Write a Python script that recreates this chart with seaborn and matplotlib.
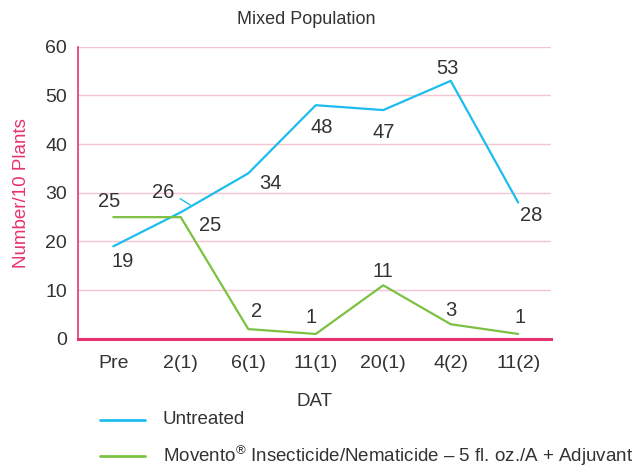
import matplotlib
matplotlib.use("Agg")
import matplotlib.pyplot as plt
import seaborn as sns
import pandas as pd
from matplotlib import font_manager

categories = ["Pre", "2(1)", "6(1)", "11(1)", "20(1)", "4(2)", "11(2)"]
untreated = [19, 26, 34, 48, 47, 53, 28]
movento = [25, 25, 2, 1, 11, 3, 1]
series_names = ["Untreated", "Movento$^{\u00ae}$ Insecticide/Nematicide \u2013 5 fl. oz./A + Adjuvant"]

sns.set_theme(style="white")
avail = {f.name for f in font_manager.fontManager.ttflist}
fam = "Liberation Sans Narrow" if "Liberation Sans Narrow" in avail else "Liberation Sans"
plt.rcParams["font.family"] = [fam, "DejaVu Sans"]
plt.rcParams["mathtext.fontset"] = "custom"
plt.rcParams["mathtext.rm"] = fam
plt.rcParams["mathtext.it"] = fam
plt.rcParams["mathtext.default"] = "rm"

TXT = "#333333"
PINK = "#e6336e"
CYAN = "#1cbdee"
GREEN = "#7cc142"

df = pd.DataFrame({
    "DAT": categories * 2,
    "value": untreated + movento,
    "series": [series_names[0]] * len(categories) + [series_names[1]] * len(categories),
})
df["x"] = list(range(len(categories))) * 2

fig = plt.figure(figsize=(6.41, 4.68), dpi=100)
ax = fig.add_axes([0.122, 0.276, 0.738, 0.624])

sns.lineplot(data=df, x="x", y="value", hue="series",
             palette=[CYAN, GREEN], linewidth=1.6, ax=ax, legend=False)

ax.set_xlim(-0.52, 6.49)
ax.set_ylim(0, 60)
ax.set_yticks(range(0, 61, 10))
ax.set_xticks(range(len(categories)))
ax.set_xticklabels(categories)
ax.tick_params(axis="both", length=0, labelsize=14, colors=TXT)
ax.tick_params(axis="x", pad=12)
ax.tick_params(axis="y", pad=8)
ax.grid(axis="y", color="#f6c3d2", linewidth=1)
ax.set_axisbelow(True)
for s in ["top", "right"]:
    ax.spines[s].set_visible(False)
ax.spines["left"].set_color(PINK)
ax.spines["left"].set_linewidth(1.2)
ax.spines["bottom"].set_color(PINK)
ax.spines["bottom"].set_linewidth(2.2)

ax.set_ylabel("Number/10 Plants", color=PINK, fontsize=13.5, labelpad=11)
ax.set_xlabel("DAT", color=TXT, fontsize=13.5, labelpad=15)
fig.text(306 / 641, 1 - 20 / 468, "Mixed Population", ha="center", va="center",
         color=TXT, fontsize=13)

fs = 14.5
u_off = [(6.5, -11), (-13, 14), (16, -7), (4, -16), (0, -16), (-2, 9), (9, -9)]
for i, (v, o) in enumerate(zip(untreated, u_off)):
    ax.annotate(str(v), (i, v), xytext=o, textcoords="offset points",
                ha="center", va="center", fontsize=fs, color=TXT)
# leader line for the "26" label
ax.annotate("", xy=(1.14, 27.5), xytext=(0.99, 28.8),
            arrowprops=dict(arrowstyle="-", color=CYAN, lw=1, shrinkA=0, shrinkB=0))
m_off = [(-3, 11), (21, -6), (6, 13), (-3.5, 11.5), (0, 10), (0, 10), (1.5, 11.5)]
for i, (v, o) in enumerate(zip(movento, m_off)):
    ax.annotate(str(v), (i, v), xytext=o, textcoords="offset points",
                ha="center", va="center", fontsize=fs, color=TXT)

# Legend
lx0, lx1, tx = 100 / 641, 145 / 641, 163 / 641
for y_px, col, name in [(420, CYAN, series_names[0]), (456, GREEN, series_names[1])]:
    yf = 1 - y_px / 468
    fig.add_artist(plt.Line2D([lx0, lx1], [yf, yf], color=col, lw=2, transform=fig.transFigure))
    fig.text(tx, yf, name, ha="left", va="center", fontsize=13.5, color=TXT)

fig.savefig("out.png", dpi=100)
